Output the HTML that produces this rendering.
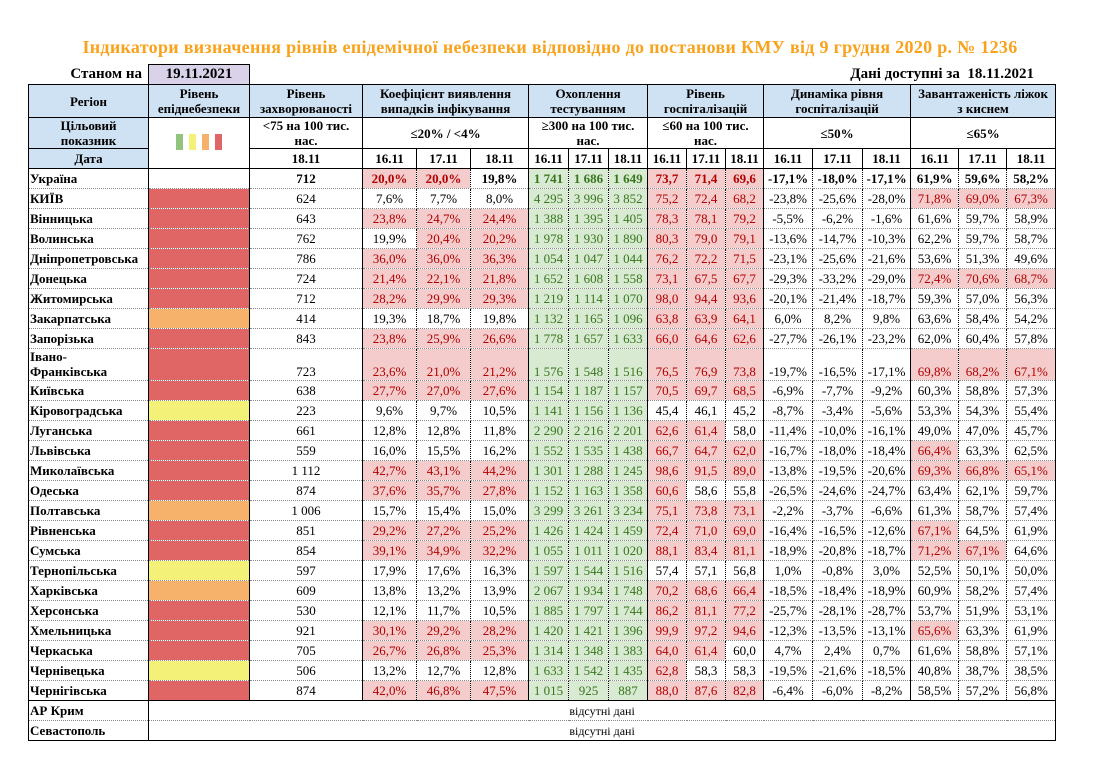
<!DOCTYPE html>
<html><head><meta charset="utf-8">
<style>
body{margin:0;width:1106px;height:773px;background:#fff;position:relative;font-family:"Liberation Serif","Noto Serif CJK SC",serif;color:#000;overflow:hidden}
.title{position:absolute;left:0;width:1100px;top:37px;text-align:center;font-weight:bold;font-size:18px;letter-spacing:0.3px;color:#f9a21b;white-space:nowrap}
.st{position:absolute;left:28px;width:114px;top:64px;height:20px;line-height:20px;text-align:right;font-weight:bold;font-size:15px}
.dbox{position:absolute;left:148px;width:100px;top:64px;height:19px;line-height:19px;border:1px solid #000;border-bottom:none;background:#d9d2e9;text-align:center;font-weight:bold;font-size:15px}
.dd{position:absolute;right:72px;top:64px;height:20px;line-height:20px;font-weight:bold;font-size:15px}
table{position:absolute;left:28px;top:84px;border-collapse:collapse;table-layout:fixed;width:1027px;border:1px solid #000}
td{padding:0 1px;font-size:13px;text-align:center;white-space:nowrap;overflow:hidden;height:19px;line-height:14px;border-right:1px dotted #000;border-bottom:1px dotted #888}
td.s{border-right:1px solid #000}
thead td{font-weight:bold;border:1px solid #000;line-height:15px;white-space:normal}
.h{background:#cfe2f3}
td.n{text-align:left;font-weight:bold;border-right:1px solid #000}
.p{background:#f4cccc;color:#b00000}
.g{background:#d9ead3;color:#38761d}
.R{background:#e06666}.Y{background:#f3f178}.O{background:#f6b26b}
tr.u td{font-weight:bold}
tr.big td{height:30px;vertical-align:bottom;padding-bottom:1px}
tr.big td.n{line-height:15px}
.ic{display:inline-block;width:7px;height:16px;margin:0 3px}
</style></head><body>
<div class="title">Індикатори визначення рівнів епідемічної небезпеки відповідно до постанови КМУ від 9 грудня 2020 р. № 1236</div>
<div class="st">Станом на</div>
<div class="dbox">19.11.2021</div>
<div class="dd">Дані доступні за&nbsp; 18.11.2021</div>
<table>
<colgroup>
<col style="width:120px"><col style="width:101px"><col style="width:113px">
<col style="width:54px"><col style="width:54px"><col style="width:58px">
<col style="width:40px"><col style="width:40px"><col style="width:39px">
<col style="width:39px"><col style="width:39px"><col style="width:38px">
<col style="width:49px"><col style="width:50px"><col style="width:48px">
<col style="width:48px"><col style="width:48px"><col style="width:49px">
</colgroup>
<thead>
<tr><td class="h" style="height:32px">Регіон</td><td class="h">Рівень епіднебезпеки</td><td class="h">Рівень захворюваності</td><td class="h" colspan="3">Коефіцієнт виявлення випадків інфікування</td><td class="h" colspan="3">Охоплення тестуванням</td><td class="h" colspan="3">Рівень госпіталізацій</td><td class="h" colspan="3">Динаміка рівня госпіталізацій</td><td class="h" colspan="3">Завантаженість ліжок<br>з киснем</td></tr>
<tr><td class="h" style="height:30px">Цільовий<br>показник</td><td rowspan="2" style="background:#fff"><span class="ic" style="background:#93c47d"></span><span class="ic" style="background:#f3f178"></span><span class="ic" style="background:#f6b26b"></span><span class="ic" style="background:#e06666"></span></td><td>&lt;75 на 100 тис. нас.</td><td colspan="3">≤20% / &lt;4%</td><td colspan="3">≥300 на 100 тис. нас.</td><td colspan="3">≤60 на 100 тис.<br>нас.</td><td colspan="3">≤50%</td><td colspan="3">≤65%</td></tr>
<tr><td class="h" style="height:18px">Дата</td><td>18.11</td><td>16.11</td><td>17.11</td><td>18.11</td><td>16.11</td><td>17.11</td><td>18.11</td><td>16.11</td><td>17.11</td><td>18.11</td><td>16.11</td><td>17.11</td><td>18.11</td><td>16.11</td><td>17.11</td><td>18.11</td></tr>
</thead>
<tbody>
<tr class="u"><td class="n">Україна</td><td class="s"></td><td class="s">712</td><td class="p">20,0%</td><td class="p">20,0%</td><td class="s">19,8%</td><td class="g">1 741</td><td class="g">1 686</td><td class="g s">1 649</td><td class="p">73,7</td><td class="p">71,4</td><td class="p s">69,6</td><td>-17,1%</td><td>-18,0%</td><td class="s">-17,1%</td><td>61,9%</td><td>59,6%</td><td>58,2%</td></tr>
<tr><td class="n">КИЇВ</td><td class="R s"></td><td class="s">624</td><td>7,6%</td><td>7,7%</td><td class="s">8,0%</td><td class="g">4 295</td><td class="g">3 996</td><td class="g s">3 852</td><td class="p">75,2</td><td class="p">72,4</td><td class="p s">68,2</td><td>-23,8%</td><td>-25,6%</td><td class="s">-28,0%</td><td class="p">71,8%</td><td class="p">69,0%</td><td class="p">67,3%</td></tr>
<tr><td class="n">Вінницька</td><td class="R s"></td><td class="s">643</td><td class="p">23,8%</td><td class="p">24,7%</td><td class="p s">24,4%</td><td class="g">1 388</td><td class="g">1 395</td><td class="g s">1 405</td><td class="p">78,3</td><td class="p">78,1</td><td class="p s">79,2</td><td>-5,5%</td><td>-6,2%</td><td class="s">-1,6%</td><td>61,6%</td><td>59,7%</td><td>58,9%</td></tr>
<tr><td class="n">Волинська</td><td class="R s"></td><td class="s">762</td><td>19,9%</td><td class="p">20,4%</td><td class="p s">20,2%</td><td class="g">1 978</td><td class="g">1 930</td><td class="g s">1 890</td><td class="p">80,3</td><td class="p">79,0</td><td class="p s">79,1</td><td>-13,6%</td><td>-14,7%</td><td class="s">-10,3%</td><td>62,2%</td><td>59,7%</td><td>58,7%</td></tr>
<tr><td class="n">Дніпропетровська</td><td class="R s"></td><td class="s">786</td><td class="p">36,0%</td><td class="p">36,0%</td><td class="p s">36,3%</td><td class="g">1 054</td><td class="g">1 047</td><td class="g s">1 044</td><td class="p">76,2</td><td class="p">72,2</td><td class="p s">71,5</td><td>-23,1%</td><td>-25,6%</td><td class="s">-21,6%</td><td>53,6%</td><td>51,3%</td><td>49,6%</td></tr>
<tr><td class="n">Донецька</td><td class="R s"></td><td class="s">724</td><td class="p">21,4%</td><td class="p">22,1%</td><td class="p s">21,8%</td><td class="g">1 652</td><td class="g">1 608</td><td class="g s">1 558</td><td class="p">73,1</td><td class="p">67,5</td><td class="p s">67,7</td><td>-29,3%</td><td>-33,2%</td><td class="s">-29,0%</td><td class="p">72,4%</td><td class="p">70,6%</td><td class="p">68,7%</td></tr>
<tr><td class="n">Житомирська</td><td class="R s"></td><td class="s">712</td><td class="p">28,2%</td><td class="p">29,9%</td><td class="p s">29,3%</td><td class="g">1 219</td><td class="g">1 114</td><td class="g s">1 070</td><td class="p">98,0</td><td class="p">94,4</td><td class="p s">93,6</td><td>-20,1%</td><td>-21,4%</td><td class="s">-18,7%</td><td>59,3%</td><td>57,0%</td><td>56,3%</td></tr>
<tr><td class="n">Закарпатська</td><td class="O s"></td><td class="s">414</td><td>19,3%</td><td>18,7%</td><td class="s">19,8%</td><td class="g">1 132</td><td class="g">1 165</td><td class="g s">1 096</td><td class="p">63,8</td><td class="p">63,9</td><td class="p s">64,1</td><td>6,0%</td><td>8,2%</td><td class="s">9,8%</td><td>63,6%</td><td>58,4%</td><td>54,2%</td></tr>
<tr><td class="n">Запорізька</td><td class="R s"></td><td class="s">843</td><td class="p">23,8%</td><td class="p">25,9%</td><td class="p s">26,6%</td><td class="g">1 778</td><td class="g">1 657</td><td class="g s">1 633</td><td class="p">66,0</td><td class="p">64,6</td><td class="p s">62,6</td><td>-27,7%</td><td>-26,1%</td><td class="s">-23,2%</td><td>62,0%</td><td>60,4%</td><td>57,8%</td></tr>
<tr class="big"><td class="n">Івано-<br>Франківська</td><td class="R s"></td><td class="s">723</td><td class="p">23,6%</td><td class="p">21,0%</td><td class="p s">21,2%</td><td class="g">1 576</td><td class="g">1 548</td><td class="g s">1 516</td><td class="p">76,5</td><td class="p">76,9</td><td class="p s">73,8</td><td>-19,7%</td><td>-16,5%</td><td class="s">-17,1%</td><td class="p">69,8%</td><td class="p">68,2%</td><td class="p">67,1%</td></tr>
<tr><td class="n">Київська</td><td class="R s"></td><td class="s">638</td><td class="p">27,7%</td><td class="p">27,0%</td><td class="p s">27,6%</td><td class="g">1 154</td><td class="g">1 187</td><td class="g s">1 157</td><td class="p">70,5</td><td class="p">69,7</td><td class="p s">68,5</td><td>-6,9%</td><td>-7,7%</td><td class="s">-9,2%</td><td>60,3%</td><td>58,8%</td><td>57,3%</td></tr>
<tr><td class="n">Кіровоградська</td><td class="Y s"></td><td class="s">223</td><td>9,6%</td><td>9,7%</td><td class="s">10,5%</td><td class="g">1 141</td><td class="g">1 156</td><td class="g s">1 136</td><td>45,4</td><td>46,1</td><td class="s">45,2</td><td>-8,7%</td><td>-3,4%</td><td class="s">-5,6%</td><td>53,3%</td><td>54,3%</td><td>55,4%</td></tr>
<tr><td class="n">Луганська</td><td class="R s"></td><td class="s">661</td><td>12,8%</td><td>12,8%</td><td class="s">11,8%</td><td class="g">2 290</td><td class="g">2 216</td><td class="g s">2 201</td><td class="p">62,6</td><td class="p">61,4</td><td class="s">58,0</td><td>-11,4%</td><td>-10,0%</td><td class="s">-16,1%</td><td>49,0%</td><td>47,0%</td><td>45,7%</td></tr>
<tr><td class="n">Львівська</td><td class="R s"></td><td class="s">559</td><td>16,0%</td><td>15,5%</td><td class="s">16,2%</td><td class="g">1 552</td><td class="g">1 535</td><td class="g s">1 438</td><td class="p">66,7</td><td class="p">64,7</td><td class="p s">62,0</td><td>-16,7%</td><td>-18,0%</td><td class="s">-18,4%</td><td class="p">66,4%</td><td>63,3%</td><td>62,5%</td></tr>
<tr><td class="n">Миколаївська</td><td class="R s"></td><td class="s">1 112</td><td class="p">42,7%</td><td class="p">43,1%</td><td class="p s">44,2%</td><td class="g">1 301</td><td class="g">1 288</td><td class="g s">1 245</td><td class="p">98,6</td><td class="p">91,5</td><td class="p s">89,0</td><td>-13,8%</td><td>-19,5%</td><td class="s">-20,6%</td><td class="p">69,3%</td><td class="p">66,8%</td><td class="p">65,1%</td></tr>
<tr><td class="n">Одеська</td><td class="R s"></td><td class="s">874</td><td class="p">37,6%</td><td class="p">35,7%</td><td class="p s">27,8%</td><td class="g">1 152</td><td class="g">1 163</td><td class="g s">1 358</td><td class="p">60,6</td><td>58,6</td><td class="s">55,8</td><td>-26,5%</td><td>-24,6%</td><td class="s">-24,7%</td><td>63,4%</td><td>62,1%</td><td>59,7%</td></tr>
<tr><td class="n">Полтавська</td><td class="O s"></td><td class="s">1 006</td><td>15,7%</td><td>15,4%</td><td class="s">15,0%</td><td class="g">3 299</td><td class="g">3 261</td><td class="g s">3 234</td><td class="p">75,1</td><td class="p">73,8</td><td class="p s">73,1</td><td>-2,2%</td><td>-3,7%</td><td class="s">-6,6%</td><td>61,3%</td><td>58,7%</td><td>57,4%</td></tr>
<tr><td class="n">Рівненська</td><td class="R s"></td><td class="s">851</td><td class="p">29,2%</td><td class="p">27,2%</td><td class="p s">25,2%</td><td class="g">1 426</td><td class="g">1 424</td><td class="g s">1 459</td><td class="p">72,4</td><td class="p">71,0</td><td class="p s">69,0</td><td>-16,4%</td><td>-16,5%</td><td class="s">-12,6%</td><td class="p">67,1%</td><td>64,5%</td><td>61,9%</td></tr>
<tr><td class="n">Сумська</td><td class="R s"></td><td class="s">854</td><td class="p">39,1%</td><td class="p">34,9%</td><td class="p s">32,2%</td><td class="g">1 055</td><td class="g">1 011</td><td class="g s">1 020</td><td class="p">88,1</td><td class="p">83,4</td><td class="p s">81,1</td><td>-18,9%</td><td>-20,8%</td><td class="s">-18,7%</td><td class="p">71,2%</td><td class="p">67,1%</td><td>64,6%</td></tr>
<tr><td class="n">Тернопільська</td><td class="Y s"></td><td class="s">597</td><td>17,9%</td><td>17,6%</td><td class="s">16,3%</td><td class="g">1 597</td><td class="g">1 544</td><td class="g s">1 516</td><td>57,4</td><td>57,1</td><td class="s">56,8</td><td>1,0%</td><td>-0,8%</td><td class="s">3,0%</td><td>52,5%</td><td>50,1%</td><td>50,0%</td></tr>
<tr><td class="n">Харківська</td><td class="O s"></td><td class="s">609</td><td>13,8%</td><td>13,2%</td><td class="s">13,9%</td><td class="g">2 067</td><td class="g">1 934</td><td class="g s">1 748</td><td class="p">70,2</td><td class="p">68,6</td><td class="p s">66,4</td><td>-18,5%</td><td>-18,4%</td><td class="s">-18,9%</td><td>60,9%</td><td>58,2%</td><td>57,4%</td></tr>
<tr><td class="n">Херсонська</td><td class="R s"></td><td class="s">530</td><td>12,1%</td><td>11,7%</td><td class="s">10,5%</td><td class="g">1 885</td><td class="g">1 797</td><td class="g s">1 744</td><td class="p">86,2</td><td class="p">81,1</td><td class="p s">77,2</td><td>-25,7%</td><td>-28,1%</td><td class="s">-28,7%</td><td>53,7%</td><td>51,9%</td><td>53,1%</td></tr>
<tr><td class="n">Хмельницька</td><td class="R s"></td><td class="s">921</td><td class="p">30,1%</td><td class="p">29,2%</td><td class="p s">28,2%</td><td class="g">1 420</td><td class="g">1 421</td><td class="g s">1 396</td><td class="p">99,9</td><td class="p">97,2</td><td class="p s">94,6</td><td>-12,3%</td><td>-13,5%</td><td class="s">-13,1%</td><td class="p">65,6%</td><td>63,3%</td><td>61,9%</td></tr>
<tr><td class="n">Черкаська</td><td class="R s"></td><td class="s">705</td><td class="p">26,7%</td><td class="p">26,8%</td><td class="p s">25,3%</td><td class="g">1 314</td><td class="g">1 348</td><td class="g s">1 383</td><td class="p">64,0</td><td class="p">61,4</td><td class="s">60,0</td><td>4,7%</td><td>2,4%</td><td class="s">0,7%</td><td>61,6%</td><td>58,8%</td><td>57,1%</td></tr>
<tr><td class="n">Чернівецька</td><td class="Y s"></td><td class="s">506</td><td>13,2%</td><td>12,7%</td><td class="s">12,8%</td><td class="g">1 633</td><td class="g">1 542</td><td class="g s">1 435</td><td class="p">62,8</td><td>58,3</td><td class="s">58,3</td><td>-19,5%</td><td>-21,6%</td><td class="s">-18,5%</td><td>40,8%</td><td>38,7%</td><td>38,5%</td></tr>
<tr><td class="n" style="border-bottom:1px solid #000">Чернігівська</td><td class="R s" style="border-bottom:1px solid #000"></td><td class="s" style="border-bottom:1px solid #000">874</td><td class="p" style="border-bottom:1px solid #000">42,0%</td><td class="p" style="border-bottom:1px solid #000">46,8%</td><td class="p s" style="border-bottom:1px solid #000">47,5%</td><td class="g" style="border-bottom:1px solid #000">1 015</td><td class="g" style="border-bottom:1px solid #000">925</td><td class="g s" style="border-bottom:1px solid #000">887</td><td class="p" style="border-bottom:1px solid #000">88,0</td><td class="p" style="border-bottom:1px solid #000">87,6</td><td class="p s" style="border-bottom:1px solid #000">82,8</td><td style="border-bottom:1px solid #000">-6,4%</td><td style="border-bottom:1px solid #000">-6,0%</td><td class="s" style="border-bottom:1px solid #000">-8,2%</td><td style="border-bottom:1px solid #000">58,5%</td><td style="border-bottom:1px solid #000">57,2%</td><td style="border-bottom:1px solid #000">56,8%</td></tr>
<tr><td class="n">АР Крим</td><td colspan="17" style="font-size:12px">відсутні дані</td></tr>
<tr><td class="n">Севастополь</td><td colspan="17" style="font-size:12px">відсутні дані</td></tr>
</tbody>
</table>
</body></html>
